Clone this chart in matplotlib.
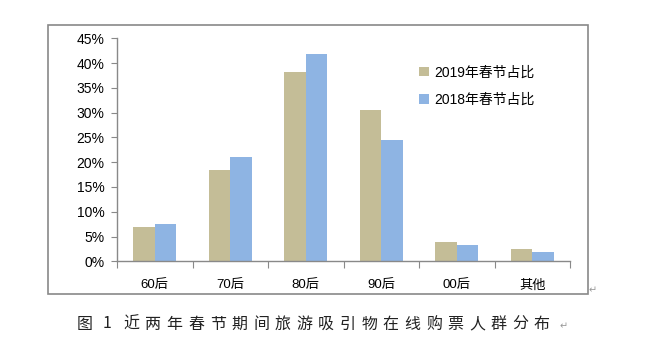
import matplotlib
matplotlib.use("Agg")
import matplotlib.pyplot as plt
import numpy as np
from matplotlib.patches import Rectangle
from matplotlib.ticker import FuncFormatter, FixedLocator

plt.rcParams["font.family"] = ["Liberation Sans", "Noto Sans CJK SC", "DejaVu Sans"]

categories = ["60后", "70后", "80后", "90后", "00后", "其他"]
share_2019 = [6.9, 18.4, 38.1, 30.5, 3.9, 2.5]
share_2018 = [7.5, 21.0, 41.8, 24.5, 3.3, 1.9]
series_labels = ["2019年春节占比", "2018年春节占比"]
caption_head = ["图", "1"]
caption_body = "近两年春节期间旅游吸引物在线购票人群分布"

tan = "#C4BD97"
blue = "#8EB4E3"
gray = "#898989"

W, H = 647, 361
fig = plt.figure(figsize=(W / 100, H / 100), dpi=100)

# outer chart border
fig.patches.append(Rectangle((48 / W, 1 - 294 / H), (588 - 48) / W, (294 - 25) / H,
                             transform=fig.transFigure, fill=False,
                             edgecolor=gray, linewidth=1.2))

ax = fig.add_axes([117 / W, 1 - 261.3 / H, (570 - 117) / W, (261.3 - 38.3) / H])
x = np.arange(len(categories))
bw = 0.285
ax.bar(x - bw / 2, share_2019, bw, color=tan, label=series_labels[0])
ax.bar(x + bw / 2, share_2018, bw, color=blue, label=series_labels[1])

ax.set_xlim(-0.5, len(categories) - 0.5)
ax.set_ylim(0, 45)
ax.set_yticks(np.arange(0, 46, 5))
ax.yaxis.set_major_formatter(FuncFormatter(lambda v, p: f"{v:.0f}%"))
ax.xaxis.set_major_locator(FixedLocator(np.arange(-0.5, len(categories), 1)))
ax.set_xticklabels([])
ax.xaxis.set_minor_locator(FixedLocator(x))
ax.set_xticklabels(categories, minor=True)
ax.tick_params(axis="x", which="minor", length=0, pad=13, labelsize=9.5)
ax.tick_params(axis="x", which="major", length=5, color=gray, direction="out")
ax.tick_params(axis="y", length=4, color=gray, labelsize=10, pad=5)

for s in ["top", "right"]:
    ax.spines[s].set_visible(False)
for s in ["left", "bottom"]:
    ax.spines[s].set_color(gray)
    ax.spines[s].set_linewidth(1.0)

ax.legend(loc="upper left", bbox_to_anchor=(0.64, 0.935), frameon=False,
          fontsize=10, handlelength=0.7, handleheight=0.7, handletextpad=0.4,
          labelspacing=1.0)

# caption with wide character spacing
cap_y = 1 - 324 / H
cap_kw = dict(ha="center", va="center", fontsize=11.5, weight="light",
              family=["Noto Sans CJK SC"], color="#222222")
fig.text(84.5 / W, cap_y, caption_head[0], **cap_kw)
fig.text(106.5 / W, cap_y, caption_head[1], **cap_kw)
for i, ch in enumerate(caption_body):
    fig.text((131.5 + i * 21.6) / W, cap_y, ch, **cap_kw)

# paragraph marks
mark_kw = dict(ha="center", va="center", fontsize=7, family=["DejaVu Sans"], color="#999999")
fig.text(564 / W, cap_y - 2 / H, "\u21b5", **mark_kw)
fig.text(593 / W, 1 - 290 / H, "\u21b5", **mark_kw)

fig.savefig("out.png", dpi=100)
